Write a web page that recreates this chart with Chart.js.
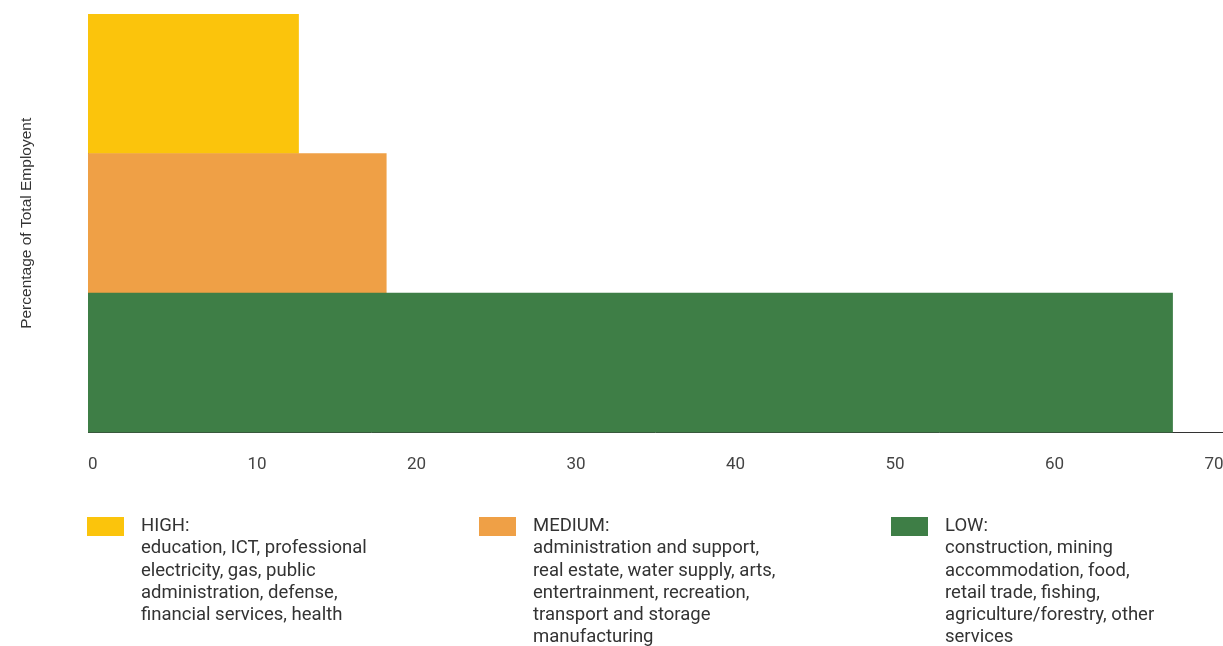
<!DOCTYPE html>
<html lang="en">
  <head>
    <meta charset="utf-8" />
    <title>Employment by automation risk</title>
    <style>
      * {
        margin: 0;
        padding: 0;
      }
      body {
        width: 1223px;
        height: 646px;
        background: #fff;
        position: relative;
        overflow: hidden;
        font-family: Roboto, sans-serif;
      }
      .chartBox {
        position: absolute;
        left: 0;
        top: 0;
        width: 1223px;
        height: 646px;
      }
      .legendItem {
        position: absolute;
        top: 514px;
        color: #333;
        font-size: 18.5px;
        line-height: 22.3px;
      }
      .legendItem .swatch {
        position: absolute;
        left: 0;
        top: 3px;
        width: 37px;
        height: 19px;
      }
      .legendItem .text {
        margin-left: 54px;
        white-space: pre;
      }
    </style>
  </head>
  <body>
    <div class="chartBox">
      <canvas id="myChart" width="1223" height="646"></canvas>
    </div>
    <div id="legend"></div>

    <script src="https://cdn.jsdelivr.net/npm/chart.js@4/dist/chart.umd.min.js"></script>

    <script>
      const categories = ["HIGH", "MEDIUM", "LOW"];
      const shares = [13.2, 18.7, 68.0];
      const colors = ["#fbc40c", "#efa046", "#3e7e46"];
      const tickValues = [0, 10, 20, 30, 40, 50, 60, 70];
      const sectorLines = [
        [
          "education, ICT, professional",
          "electricity, gas, public",
          "administration, defense,",
          "financial services, health",
        ],
        [
          "administration and support,",
          "real estate, water supply, arts,",
          "entertrainment, recreation,",
          "transport and storage",
          "manufacturing",
        ],
        [
          "construction, mining",
          "accommodation, food,",
          "retail trade, fishing,",
          "agriculture/forestry, other",
          "services",
        ],
      ];
      const legendLeft = [87, 479, 891];

      // legend blocks under the chart
      const legend = document.getElementById("legend");
      categories.forEach((cat, i) => {
        const item = document.createElement("div");
        item.className = "legendItem";
        item.style.left = legendLeft[i] + "px";
        const sw = document.createElement("div");
        sw.className = "swatch";
        sw.style.background = colors[i];
        const txt = document.createElement("div");
        txt.className = "text";
        txt.textContent = cat + ":\n" + sectorLines[i].join("\n");
        item.appendChild(sw);
        item.appendChild(txt);
        legend.appendChild(item);
      });

      const data = {
        labels: categories,
        datasets: [
          {
            data: shares,
            backgroundColor: colors,
            borderWidth: 0,
            categoryPercentage: 1,
            barPercentage: 1,
          },
        ],
      };

      const config = {
        type: "bar",
        data: data,
        options: {
          indexAxis: "y",
          responsive: false,
          animation: false,
          layout: {
            padding: { left: 13, right: 1, top: 14, bottom: 149 },
          },
          plugins: {
            legend: { display: false },
            tooltip: { enabled: false },
          },
          scales: {
            x: {
              min: 0,
              max: 71.1,
              grid: { display: false, drawTicks: false },
              border: { display: true, color: "#333", width: 1 },
              afterBuildTicks: (scale) => {
                scale.ticks = tickValues.map((v) => ({ value: v }));
              },
              afterFit: (scale) => {
                // the "70" label may hang past the axis end
                scale.paddingRight = 0;
                scale.paddingLeft = 0;
              },
              ticks: {
                align: "start",
                padding: 22,
                color: "#444",
                font: { family: "Roboto", size: 17 },
              },
            },
            y: {
              grid: { display: false, drawTicks: false },
              border: { display: true, color: "#333", width: 1 },
              ticks: { display: false },
              afterFit: (scale) => {
                scale.width = 75;
              },
              title: {
                display: true,
                text: "Percentage of Total Employent",
                color: "#333",
                font: { family: "Liberation Sans", size: 15.5 },
              },
            },
          },
        },
      };

      const myChart = new Chart(document.getElementById("myChart"), config);
    </script>
  </body>
</html>
